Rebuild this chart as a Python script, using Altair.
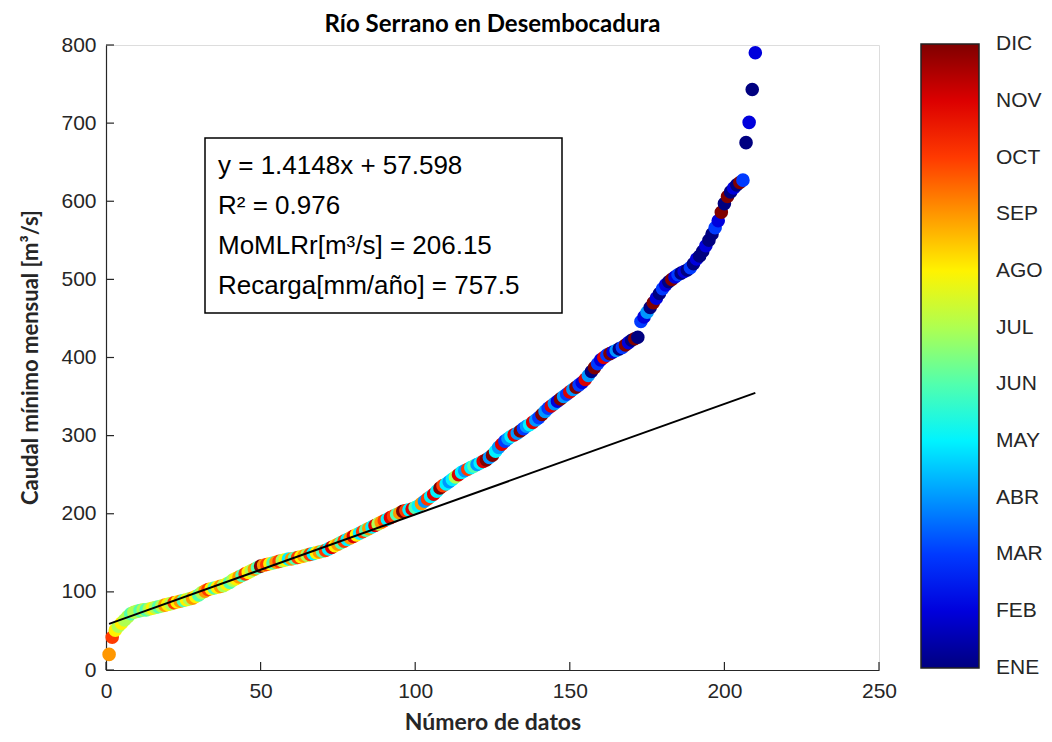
import altair as alt
import pandas as pd

# ---------------- data ----------------
numero = list(range(1, 211))

caudal = [
    20, 42, 51, 56, 60, 64, 68, 72, 74, 75,
    76, 77, 77, 78, 79, 80, 81, 82, 83, 84,
    85, 86, 87, 88, 89, 90, 91, 92, 94, 96,
    99, 101, 103, 104, 105, 106, 107, 108, 110, 112,
    115, 117, 119, 121, 123, 125, 127, 129, 131, 133,
    134, 135, 136, 137, 138, 139, 140, 141, 142, 142,
    143, 144, 145, 146, 147, 148, 149, 150, 151, 152,
    153, 155, 157, 159, 161, 163, 165, 167, 169, 171,
    173, 175, 177, 179, 181, 183, 185, 187, 189, 191,
    193, 195, 197, 199, 201, 203, 204, 205, 206, 208,
    210, 213, 216, 219, 222, 225, 229, 233, 236, 238,
    241, 244, 247, 250, 253, 255, 257, 259, 261, 263,
    265, 267, 269, 272, 275, 280, 285, 289, 293, 296,
    299, 301, 303, 306, 309, 312, 314, 317, 320, 323,
    327, 331, 335, 338, 341, 344, 347, 350, 353, 356,
    359, 362, 365, 368, 372, 377, 382, 387, 392, 397,
    400, 403, 405, 407, 409, 411, 413, 416, 419, 422,
    424, 426, 446, 452, 458, 464, 470, 476, 482, 488,
    493, 497, 500, 503, 506, 508, 510, 512, 515, 520,
    526, 530, 536, 543, 550, 558, 566, 575, 586, 597,
    606, 612, 617, 621, 624, 627, 675, 701, 743, 790,
]

mes = [
    9, 10, 8, 7, 8, 7, 7, 6, 7, 7,
    6, 7, 6, 7, 8, 7, 6, 7, 9, 8,
    7, 10, 8, 9, 6, 8, 7, 9, 8, 6,
    7, 9, 10, 8, 6, 8, 9, 7, 8, 6,
    7, 8, 9, 6, 10, 8, 7, 9, 6, 12,
    9, 10, 8, 6, 9, 10, 7, 8, 5, 9,
    6, 10, 8, 9, 7, 10, 5, 8, 9, 6,
    10, 5, 11, 8, 9, 6, 10, 5, 9, 11,
    8, 5, 10, 6, 9, 5, 11, 7, 9, 10,
    5, 11, 10, 6, 9, 12, 10, 5, 11, 6,
    5, 9, 4, 10, 5, 11, 5, 12, 10, 5,
    4, 5, 7, 11, 5, 4, 10, 5, 6, 4,
    5, 11, 12, 4, 12, 5, 4, 11, 3, 4,
    5, 11, 4, 12, 3, 4, 5, 11, 4, 3,
    12, 4, 3, 11, 4, 2, 12, 4, 3, 11,
    4, 12, 3, 2, 11, 4, 1, 12, 3, 2,
    11, 3, 12, 2, 4, 1, 3, 12, 2, 1,
    12, 1, 3, 2, 4, 1, 12, 2, 1, 3,
    2, 1, 12, 2, 3, 1, 2, 1, 3, 1,
    2, 1, 1, 2, 1, 1, 3, 2, 12, 1,
    12, 1, 2, 1, 12, 3, 1, 2, 1, 2,
]

meses = ["ENE", "FEB", "MAR", "ABR", "MAY", "JUN",
         "JUL", "AGO", "SEP", "OCT", "NOV", "DIC"]
mes_num = list(range(1, 13))

pendiente = 1.4148
intercepto = 57.598
x_recta = [1, 210]

titulo = "Río Serrano en Desembocadura"
caja_texto = [
    "y = 1.4148x + 57.598",
    "R² = 0.976",
    "MoMLRr[m³/s] = 206.15",
    "Recarga[mm/año] = 757.5",
]

x_ticks = [0, 50, 100, 150, 200, 250]
y_ticks = [0, 100, 200, 300, 400, 500, 600, 700, 800]

# jet colormap stops (ends nudged so end labels centre on the bar ends)
jet_dom = [0.995, 2.375, 5.125, 7.875, 10.625, 12.005]
jet_rng = ["#000080", "#0000ff", "#00ffff", "#ffff00", "#ff0000", "#800000"]

# ---------------- chart ----------------
W, H = 773, 625
AX = "#262626"
TICKFONT = "Liberation Sans"
BOLDFONT = "Lato"
CB_X, CB_Y, CB_W, CB_L = 815, -1, 58, 624

df = pd.DataFrame({"n": numero, "q": caudal, "m": mes})
df_line = pd.DataFrame({"n": x_recta,
                        "q": [pendiente * v + intercepto for v in x_recta]})

xscale = alt.Scale(domain=[0, 250], nice=False, zero=False)
yscale = alt.Scale(domain=[0, 800], nice=False, zero=False)

label_expr = "[" + ",".join("'%s'" % m for m in meses) + "][datum.value - 1]"

points = alt.Chart(df).mark_circle(size=185, opacity=1).encode(
    x=alt.X("n:Q", scale=xscale,
            axis=alt.Axis(values=x_ticks, ticks=False, grid=False,
                          title="Número de datos", titleFont=BOLDFONT,
                          titleFontSize=23, titleFontWeight="bold",
                          titleColor=AX, titleY=59, titleBaseline="alphabetic",
                          labelFont=TICKFONT, labelFontSize=21, labelColor=AX,
                          labelPadding=10, domainColor=AX, domainWidth=1.2,
                          labelFlush=False)),
    y=alt.Y("q:Q", scale=yscale,
            axis=alt.Axis(values=y_ticks, ticks=False, grid=False,
                          title="Caudal mínimo mensual [m³/s]", titleFont=BOLDFONT,
                          titleFontSize=22, titleFontWeight="bold",
                          titleColor=AX, titleX=-76, titleY=312,
                          titleBaseline="middle", titleAngle=-90,
                          labelFont=TICKFONT, labelFontSize=21, labelColor=AX,
                          labelPadding=10, domainColor=AX, domainWidth=1.2,
                          labelFlush=False)),
    color=alt.Color("m:Q",
                    scale=alt.Scale(domain=jet_dom, range=jet_rng, interpolate="rgb"),
                    legend=alt.Legend(orient="none", legendX=CB_X, legendY=CB_Y,
                                      direction="vertical", title=None,
                                      gradientLength=CB_L, gradientThickness=CB_W,
                                      gradientStrokeColor="#222", gradientStrokeWidth=1.5,
                                      values=mes_num, labelExpr=label_expr,
                                      labelFont=TICKFONT, labelFontSize=21,
                                      labelColor=AX, labelOffset=17,
                                      labelOverlap=False, padding=0)),
    order=alt.Order("n:Q"),
)

line = alt.Chart(df_line).mark_line(color="black", strokeWidth=2).encode(
    x=alt.X("n:Q", scale=xscale), y=alt.Y("q:Q", scale=yscale, axis=None))

xt = alt.Chart(pd.DataFrame({"v": x_ticks})).mark_rule(color=AX, strokeWidth=1.2).encode(
    x=alt.X("v:Q", scale=xscale), y=alt.value(H), y2=alt.value(H - 8))
yt = alt.Chart(pd.DataFrame({"v": y_ticks})).mark_rule(color=AX, strokeWidth=1.2).encode(
    y=alt.Y("v:Q", scale=yscale, axis=None), x=alt.value(0), x2=alt.value(8))

# colorbar inner ticks
cbt = alt.Chart(pd.DataFrame({"k": mes_num[1:-1]})).mark_rule(color="#222", strokeWidth=1.5).encode(
    y=alt.Y("k:Q", scale=alt.Scale(domain=[1, 12], range=[CB_Y + CB_L, CB_Y]), axis=None),
    x=alt.value(CB_X + CB_W - 7), x2=alt.value(CB_X + CB_W))

box = alt.Chart(pd.DataFrame({"a": [0]})).mark_rect(
    fill="white", stroke="black", strokeWidth=1.5).encode(
    x=alt.value(99), x2=alt.value(456), y=alt.value(93), y2=alt.value(268))

txt = alt.Chart(pd.DataFrame({"a": [0]})).mark_text(
    text=caja_texto, align="left", baseline="middle", fontSize=26,
    lineHeight=40, font=TICKFONT, color="black").encode(
    x=alt.value(112), y=alt.value(121))

ttl = alt.Chart(pd.DataFrame({"a": [0]})).mark_text(
    text=titulo, align="center", baseline="middle", fontSize=24,
    font=BOLDFONT, fontWeight="bold", color="black").encode(
    x=alt.value(W / 2), y=alt.value(-20))

chart = alt.layer(points, line, xt, yt, cbt, box, txt, ttl).resolve_scale(
    y="independent"
).properties(
    width=W, height=H,
    autosize=alt.AutoSizeParams(type="none"),
    padding={"left": 98, "top": 37, "right": 165, "bottom": 64},
).configure_view(stroke=None).configure(background="white")

chart.save("out.html", embed_options={"renderer": "svg", "actions": False})
